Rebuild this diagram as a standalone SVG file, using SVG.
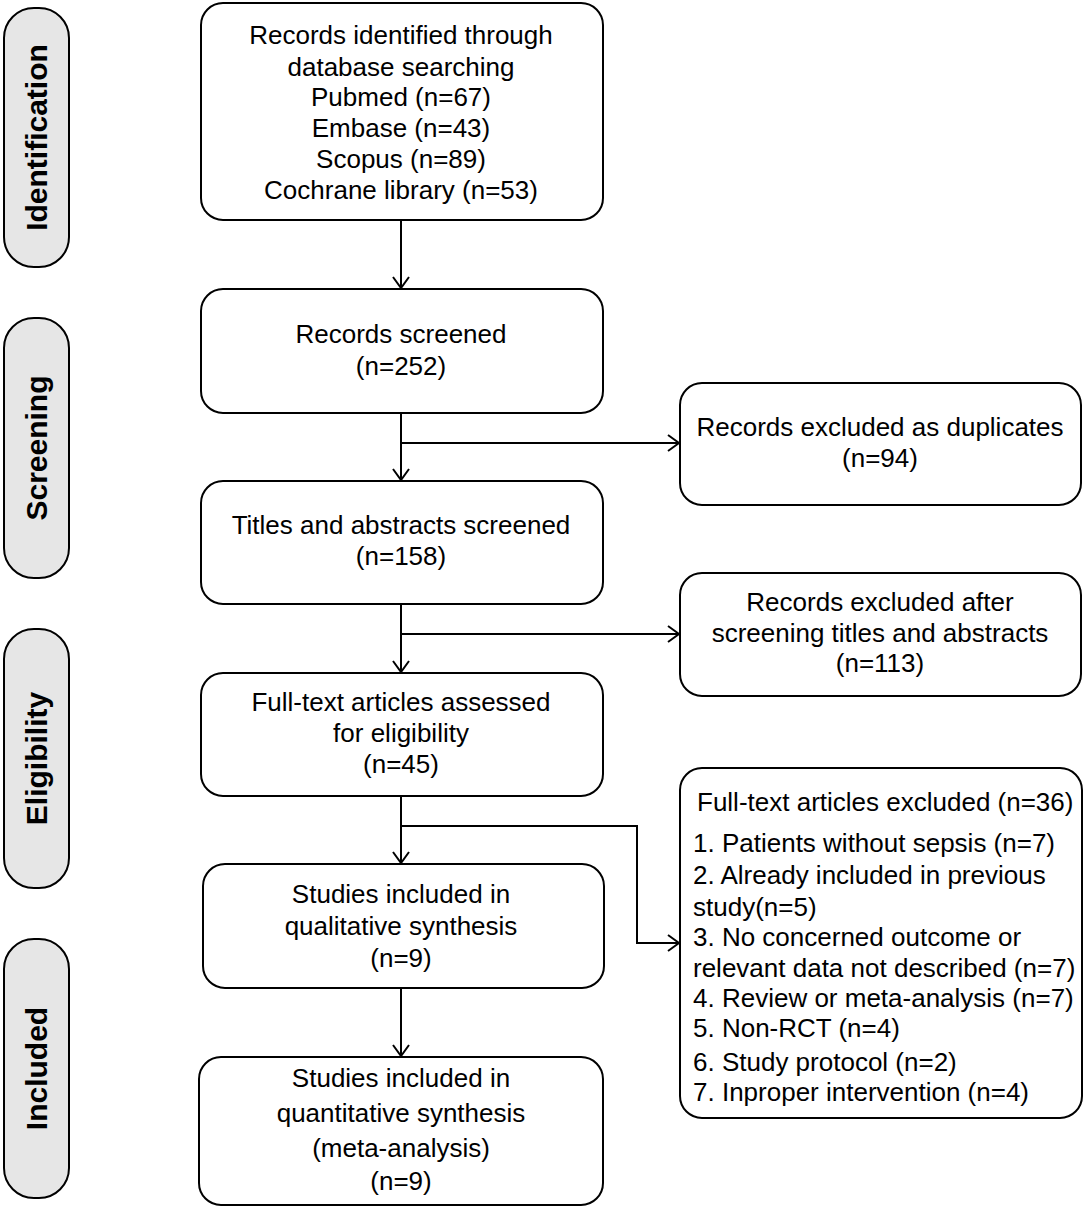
<svg xmlns="http://www.w3.org/2000/svg" width="1084" height="1210" viewBox="0 0 1084 1210">
<style>
.box{fill:#fff;stroke:#000;stroke-width:2}
.pill{fill:#e6e6e6;stroke:#000;stroke-width:2}
.t{font-family:"Liberation Sans",Arial,sans-serif;font-size:26px;fill:#000;text-anchor:middle}
.tl{font-family:"Liberation Sans",Arial,sans-serif;font-size:26px;fill:#000;text-anchor:start}
.st{font-family:"Liberation Sans",Arial,sans-serif;font-size:30px;font-weight:bold;fill:#000;text-anchor:middle}
.c{fill:none;stroke:#000;stroke-width:2}
</style>
<defs>
<marker id="arr" markerWidth="14" markerHeight="18" refX="12" refY="9" orient="auto" markerUnits="userSpaceOnUse">
<path d="M1,1 L12,9 L1,17" fill="none" stroke="#000" stroke-width="2"/>
</marker>
</defs>
<rect width="1084" height="1210" fill="#fff"/>
<g id="stage-identification">
<rect class="pill" x="4" y="8" width="65" height="259" rx="30"/>
<text class="st" transform="translate(47,137.5) rotate(-90)">Identification</text>
</g>
<g id="stage-screening">
<rect class="pill" x="4" y="318" width="65" height="260" rx="30"/>
<text class="st" transform="translate(47,448) rotate(-90)">Screening</text>
</g>
<g id="stage-eligibility">
<rect class="pill" x="4" y="629" width="65" height="259" rx="30"/>
<text class="st" transform="translate(47,758.5) rotate(-90)">Eligibility</text>
</g>
<g id="stage-included">
<rect class="pill" x="4" y="939" width="65" height="259" rx="30"/>
<text class="st" transform="translate(47,1068.5) rotate(-90)">Included</text>
</g>
<g id="connectors">
<line class="c" x1="401" y1="220" x2="401" y2="288" marker-end="url(#arr)"/>
<line class="c" x1="401" y1="413" x2="401" y2="480" marker-end="url(#arr)"/>
<line class="c" x1="401" y1="604" x2="401" y2="672" marker-end="url(#arr)"/>
<line class="c" x1="401" y1="796" x2="401" y2="863" marker-end="url(#arr)"/>
<line class="c" x1="401" y1="988" x2="401" y2="1056" marker-end="url(#arr)"/>
<line class="c" x1="401" y1="443" x2="679" y2="443" marker-end="url(#arr)"/>
<line class="c" x1="401" y1="634" x2="679" y2="634" marker-end="url(#arr)"/>
<polyline class="c" points="401,826 637,826 637,943 679,943" marker-end="url(#arr)"/>
</g>
<g id="n-identified">
<rect class="box" x="201" y="3" width="402" height="217" rx="22"/>
<text class="t" x="401" y="44">Records identified through</text>
<text class="t" x="401" y="76">database searching</text>
<text class="t" x="401" y="106">Pubmed (n=67)</text>
<text class="t" x="401" y="137">Embase (n=43)</text>
<text class="t" x="401" y="168">Scopus (n=89)</text>
<text class="t" x="401" y="199">Cochrane library (n=53)</text>
</g>
<g id="n-screened">
<rect class="box" x="201" y="289" width="402" height="124" rx="22"/>
<text class="t" x="401" y="343">Records screened</text>
<text class="t" x="401" y="375">(n=252)</text>
</g>
<g id="n-titles">
<rect class="box" x="201" y="481" width="402" height="123" rx="22"/>
<text class="t" x="401" y="534">Titles and abstracts screened</text>
<text class="t" x="401" y="565">(n=158)</text>
</g>
<g id="n-fulltext">
<rect class="box" x="201" y="673" width="402" height="123" rx="22"/>
<text class="t" x="401" y="711">Full-text articles assessed</text>
<text class="t" x="401" y="742">for eligibility</text>
<text class="t" x="401" y="773">(n=45)</text>
</g>
<g id="n-qualitative">
<rect class="box" x="203" y="864" width="401" height="124" rx="22"/>
<text class="t" x="401" y="903">Studies included in</text>
<text class="t" x="401" y="935">qualitative synthesis</text>
<text class="t" x="401" y="967">(n=9)</text>
</g>
<g id="n-quantitative">
<rect class="box" x="199" y="1057" width="404" height="148" rx="22"/>
<text class="t" x="401" y="1087">Studies included in</text>
<text class="t" x="401" y="1122">quantitative synthesis</text>
<text class="t" x="401" y="1157">(meta-analysis)</text>
<text class="t" x="401" y="1190">(n=9)</text>
</g>
<g id="n-duplicates">
<rect class="box" x="680" y="383" width="401" height="122" rx="22"/>
<text class="t" x="880" y="436">Records excluded as duplicates</text>
<text class="t" x="880" y="467">(n=94)</text>
</g>
<g id="n-excluded-screening">
<rect class="box" x="680" y="573" width="401" height="123" rx="22"/>
<text class="t" x="880" y="611">Records excluded after</text>
<text class="t" x="880" y="642">screening titles and abstracts</text>
<text class="t" x="880" y="672">(n=113)</text>
</g>
<g id="n-excluded-fulltext">
<rect class="box" x="680" y="768" width="402" height="350" rx="22"/>
<text class="tl" x="697" y="811">Full-text articles excluded (n=36)</text>
<text class="tl" x="693" y="852">1. Patients without sepsis (n=7)</text>
<text class="tl" x="693" y="884">2. Already included in previous</text>
<text class="tl" x="693" y="916">study(n=5)</text>
<text class="tl" x="693" y="946">3. No concerned outcome or</text>
<text class="tl" x="693" y="977">relevant data not described (n=7)</text>
<text class="tl" x="693" y="1007">4. Review or meta-analysis (n=7)</text>
<text class="tl" x="693" y="1037">5. Non-RCT (n=4)</text>
<text class="tl" x="693" y="1071">6. Study protocol (n=2)</text>
<text class="tl" x="693" y="1101">7. Inproper intervention (n=4)</text>
</g>
</svg>
